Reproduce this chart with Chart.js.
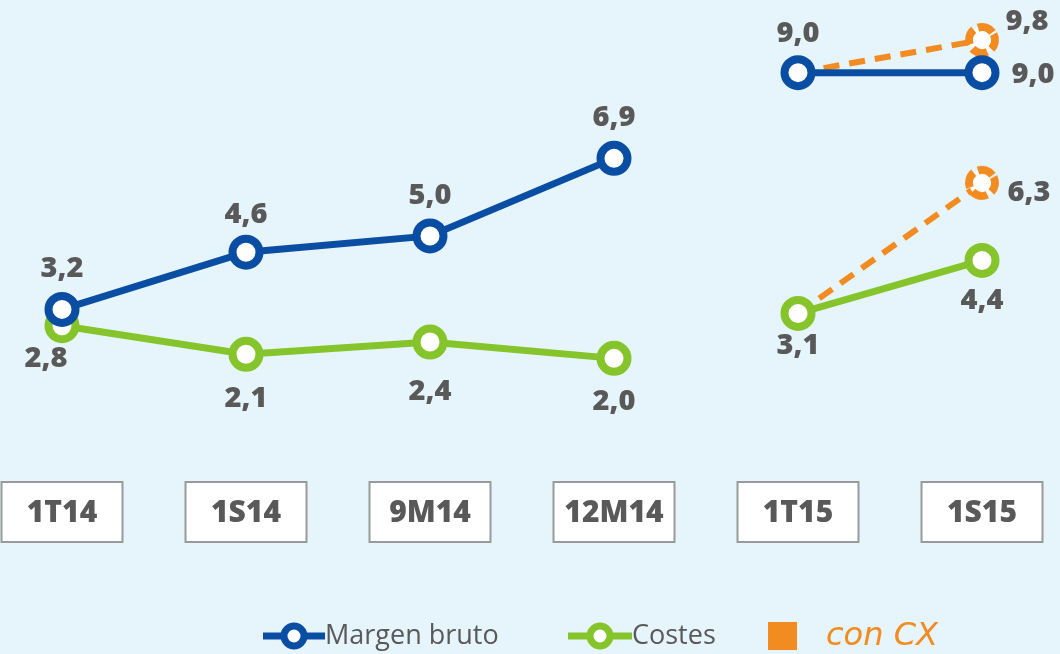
<!DOCTYPE html>
<html><head><meta charset="utf-8">
<script src="https://cdn.jsdelivr.net/npm/chart.js@4.4.1/dist/chart.umd.min.js"></script>
<style>html,body{margin:0;padding:0;background:#e6f4fc;overflow:hidden}#wrap{width:1060px;height:654px;position:relative}</style>
</head><body><div id="wrap"><canvas id="c" width="1060" height="654"></canvas></div>
<script>
const categories = ['1T14','1S14','9M14','12M14','1T15','1S15'];
const margenBruto = [3.2, 4.6, 5.0, 6.9, 9.0, 9.0];
const costes = [2.8, 2.1, 2.4, 2.0, 3.1, 4.4];
const margenConCX = [null, null, null, null, 9.0, 9.8];
const costesConCX = [null, null, null, null, 3.1, 6.3];
const seriesNames = ['Margen bruto', 'Costes', 'con CX'];

const BLUE = '#0a4ea3', GREEN = '#86c42b', ORANGE = '#f28b20', GRAY = '#595959', BG = '#e6f4fc';

function dashedRing() {
  const c = document.createElement('canvas');
  c.width = 40; c.height = 40;
  const g = c.getContext('2d');
  g.beginPath(); g.arc(20, 20, 13, 0, Math.PI * 2);
  g.fillStyle = '#ffffff'; g.fill();
  g.setLineDash([16, 5]);
  g.lineWidth = 8; g.strokeStyle = ORANGE;
  g.beginPath(); g.arc(20, 20, 13, -Math.PI * 0.15, Math.PI * 1.85); g.stroke();
  return c;
}
const ring = dashedRing();

const gapSeg = { borderColor: ctx => ctx.p0DataIndex === 3 ? 'rgba(0,0,0,0)' : undefined };

const bgPlugin = {
  id: 'bg',
  beforeDraw(chart) {
    const ctx = chart.ctx;
    ctx.save(); ctx.fillStyle = BG; ctx.fillRect(0, 0, chart.width, chart.height); ctx.restore();
  }
};

const fmt = v => v.toFixed(1).replace('.', ',');

const labelPlugin = {
  id: 'valLabels',
  afterDatasetsDraw(chart) {
    const ctx = chart.ctx;
    ctx.save();
    ctx.font = '800 29px "Open Sans"';
    ctx.fillStyle = GRAY;
    ctx.textAlign = 'center'; ctx.textBaseline = 'middle';
    chart.data.datasets.forEach((ds, di) => {
      const meta = chart.getDatasetMeta(di);
      (ds.labelOffsets || []).forEach((off, i) => {
        if (!off || ds.data[i] == null) return;
        const p = meta.data[i];
        ctx.fillText(fmt(ds.data[i]), p.x + off[0], p.y + off[1]);
      });
    });
    ctx.restore();
  }
};

const axisBoxPlugin = {
  id: 'axisBoxes',
  afterDraw(chart) {
    const ctx = chart.ctx, xs = chart.scales.x;
    ctx.save();
    categories.forEach((lab, i) => {
      const x = xs.getPixelForValue(i);
      const w = 121, h = 60, top = 482;
      ctx.fillStyle = '#ffffff';
      ctx.fillRect(x - w / 2, top, w, h);
      ctx.strokeStyle = '#9a9a9a'; ctx.lineWidth = 2;
      ctx.strokeRect(x - w / 2, top, w, h);
      ctx.fillStyle = GRAY;
      ctx.font = '800 30px "Open Sans"';
      ctx.textAlign = 'center'; ctx.textBaseline = 'middle';
      ctx.fillText(lab, x, top + h / 2 + 1);
    });
    ctx.restore();
  }
};

const legendPlugin = {
  id: 'customLegend',
  afterDraw(chart) {
    const ctx = chart.ctx, y = 636;
    ctx.save();
    const marker = (x0, x1, color) => {
      ctx.strokeStyle = color; ctx.lineWidth = 7;
      ctx.beginPath(); ctx.moveTo(x0, y); ctx.lineTo(x1, y); ctx.stroke();
      const cx = (x0 + x1) / 2;
      ctx.beginPath(); ctx.arc(cx, y, 10, 0, Math.PI * 2);
      ctx.fillStyle = '#fff'; ctx.fill(); ctx.stroke();
    };
    ctx.textBaseline = 'middle'; ctx.textAlign = 'left';
    marker(263, 325, BLUE);
    ctx.fillStyle = GRAY; ctx.font = '27px "Open Sans"';
    ctx.fillText(seriesNames[0], 325, y);
    marker(568, 632, GREEN);
    ctx.fillStyle = GRAY;
    ctx.fillText(seriesNames[1], 632, y);
    ctx.fillStyle = ORANGE;
    ctx.fillRect(768, 622, 29, 28);
    ctx.font = 'italic 200 32px "DejaVu Sans"';
    ctx.fillText(seriesNames[2], 826, y + 1);
    ctx.restore();
  }
};

new Chart(document.getElementById('c'), {
  type: 'line',
  data: {
    labels: categories,
    datasets: [
      {
        label: seriesNames[0], data: margenBruto,
        borderColor: BLUE, borderWidth: 7, backgroundColor: '#fff',
        pointRadius: 13.5, pointBorderWidth: 8, pointBackgroundColor: '#fff', pointBorderColor: BLUE,
        segment: gapSeg,
        labelOffsets: [[0, -41], [0, -38], [0, -40], [0, -41], [0, -39], [51, 2]]
      },
      {
        label: seriesNames[1], data: costes,
        borderColor: GREEN, borderWidth: 7, backgroundColor: '#fff',
        pointRadius: 13.5, pointBorderWidth: 8, pointBackgroundColor: '#fff', pointBorderColor: GREEN,
        segment: gapSeg,
        labelOffsets: [[-16, 33], [0, 44], [0, 50], [0, 43], [0, 32], [0, 40]]
      },
      {
        label: seriesNames[0] + ' ' + seriesNames[2], data: margenConCX,
        borderColor: ORANGE, borderWidth: 6, borderDash: [16, 10],
        pointRadius: [0, 0, 0, 0, 0, 13], pointStyle: ring,
        labelOffsets: [null, null, null, null, null, [45, -18]]
      },
      {
        label: seriesNames[1] + ' ' + seriesNames[2], data: costesConCX,
        borderColor: ORANGE, borderWidth: 6, borderDash: [16, 10],
        pointRadius: [0, 0, 0, 0, 0, 13], pointStyle: ring,
        labelOffsets: [null, null, null, null, null, [47, 10]]
      }
    ]
  },
  options: {
    responsive: false, animation: false,
    layout: { autoPadding: false, padding: { left: 62, right: 78, top: 0, bottom: 214 } },
    scales: {
      x: { display: false, offset: false },
      y: { display: false, min: 0, max: 10.78 }
    },
    plugins: { legend: { display: false }, tooltip: { enabled: false } }
  },
  plugins: [bgPlugin, labelPlugin, axisBoxPlugin, legendPlugin]
});
</script></body></html>
